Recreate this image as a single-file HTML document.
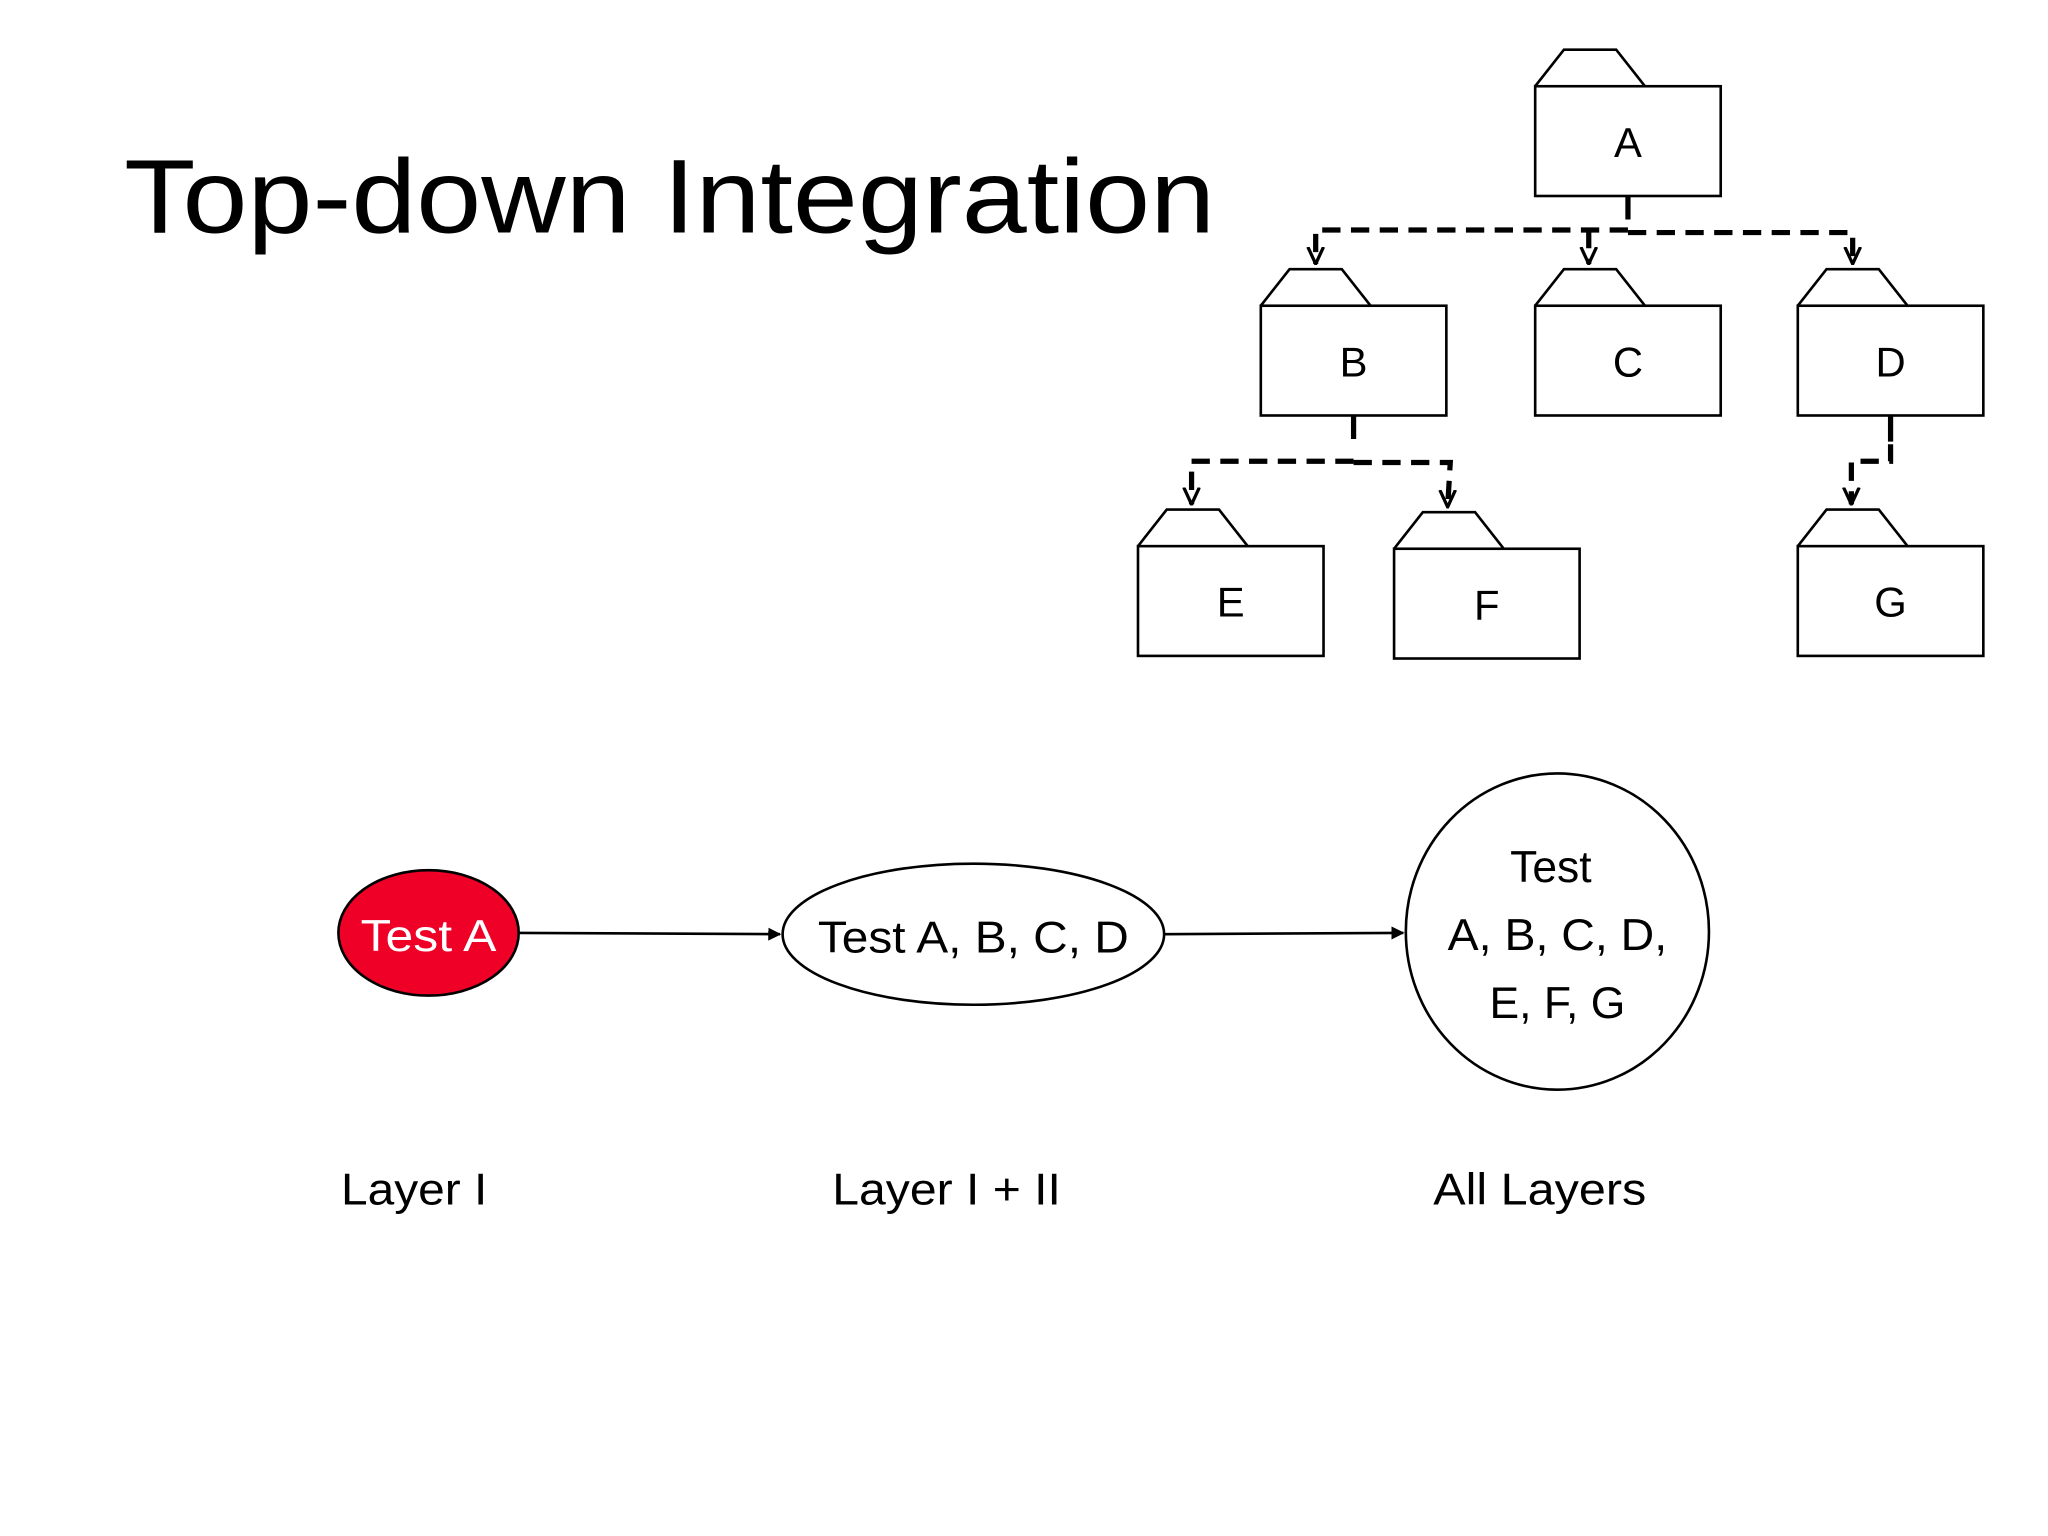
<!DOCTYPE html>
<html><head><meta charset="utf-8"><style>
html,body{margin:0;padding:0;background:#fff;}
svg{display:block;}
text{font-family:"Liberation Sans",sans-serif;}
</style></head><body>
<svg width="2048" height="1536" viewBox="0 0 1567.5 1175.6" preserveAspectRatio="none" xmlns="http://www.w3.org/2000/svg">
<defs>
<marker id="ah" markerWidth="10" markerHeight="10" refX="9" refY="5" orient="auto" markerUnits="userSpaceOnUse">
<path d="M0,0 L10,5 L0,10 Z" fill="#000"/></marker>
<marker id="dv" markerWidth="14" markerHeight="14" refX="7" refY="13" orient="0" markerUnits="userSpaceOnUse">
<path d="M1,0 L7,13 L13,0" fill="none" stroke="#000" stroke-width="2.5"/></marker>
</defs>
<rect width="1567.5" height="1175.6" fill="#fff"/>
<text x="95" y="178" font-size="80" textLength="835" lengthAdjust="spacingAndGlyphs">Top-down Integration</text>

<g fill="#fff" stroke="#000" stroke-width="2">
<path d="M1175,66 L1197,38 L1237,38 L1259,66"/><rect x="1175" y="66" width="142" height="84"/>
<path d="M965,234 L987,206 L1027,206 L1049,234"/><rect x="965" y="234" width="142" height="84"/>
<path d="M1175,234 L1197,206 L1237,206 L1259,234"/><rect x="1175" y="234" width="142" height="84"/>
<path d="M1376,234 L1398,206 L1438,206 L1460,234"/><rect x="1376" y="234" width="142" height="84"/>
<path d="M871,418 L893,390 L933,390 L955,418"/><rect x="871" y="418" width="142" height="84"/>
<path d="M1067,420 L1089,392 L1129,392 L1151,420"/><rect x="1067" y="420" width="142" height="84"/>
<path d="M1376,418 L1398,390 L1438,390 L1460,418"/><rect x="1376" y="418" width="142" height="84"/>
</g>
<g font-size="32" text-anchor="middle">
<text x="1246" y="120">A</text>
<text x="1036" y="288">B</text>
<text x="1246" y="288">C</text>
<text x="1447" y="288">D</text>
<text x="942" y="472">E</text>
<text x="1138" y="474">F</text>
<text x="1447" y="472">G</text>
</g>

<g stroke="#000" stroke-width="4" fill="none">
<line x1="1246" y1="150" x2="1246" y2="168"/>
<line x1="1036" y1="318" x2="1036" y2="336"/>
<line x1="1447" y1="318" x2="1447" y2="338"/>
</g>
<g stroke="#000" stroke-width="4" fill="none" stroke-dasharray="14,8">
<path d="M1246,176 L1007,176 L1007,202" marker-end="url(#dv)"/>
<path d="M1216,176 L1216,202" marker-end="url(#dv)"/>
<path d="M1246,178 L1418,178 L1418,202" marker-end="url(#dv)"/>
<path d="M1036,353 L912,353 L912,386" marker-end="url(#dv)"/>
<path d="M1036,354 L1110,354 L1108,388" marker-end="url(#dv)"/>
<path d="M1447,340 L1447,353 L1417,353 L1417,386" marker-end="url(#dv)"/>
</g>

<ellipse cx="328" cy="714" rx="69" ry="48" fill="#ee0027" stroke="#000" stroke-width="2"/>
<text x="328" y="728" font-size="34" fill="#fff" text-anchor="middle" textLength="104" lengthAdjust="spacingAndGlyphs">Test A</text>
<line x1="398" y1="714" x2="597" y2="715" stroke="#000" stroke-width="2" marker-end="url(#ah)"/>
<ellipse cx="745" cy="715" rx="146" ry="54" fill="#fff" stroke="#000" stroke-width="2"/>
<text x="745" y="729" font-size="34" text-anchor="middle" textLength="238" lengthAdjust="spacingAndGlyphs">Test A, B, C, D</text>
<line x1="891" y1="715" x2="1074" y2="714" stroke="#000" stroke-width="2" marker-end="url(#ah)"/>
<ellipse cx="1192" cy="713" rx="116" ry="121" fill="#fff" stroke="#000" stroke-width="2"/>
<g font-size="34" text-anchor="middle">
<text x="1187" y="675">Test</text>
<text x="1192" y="727" textLength="168" lengthAdjust="spacingAndGlyphs">A, B, C, D,</text>
<text x="1192" y="779">E, F, G</text>
</g>
<g font-size="34">
<text x="261" y="922" textLength="112" lengthAdjust="spacingAndGlyphs">Layer I</text>
<text x="637" y="922" textLength="175" lengthAdjust="spacingAndGlyphs">Layer I + II</text>
<text x="1097" y="922" textLength="163" lengthAdjust="spacingAndGlyphs">All Layers</text>
</g>
</svg>
</body></html>
